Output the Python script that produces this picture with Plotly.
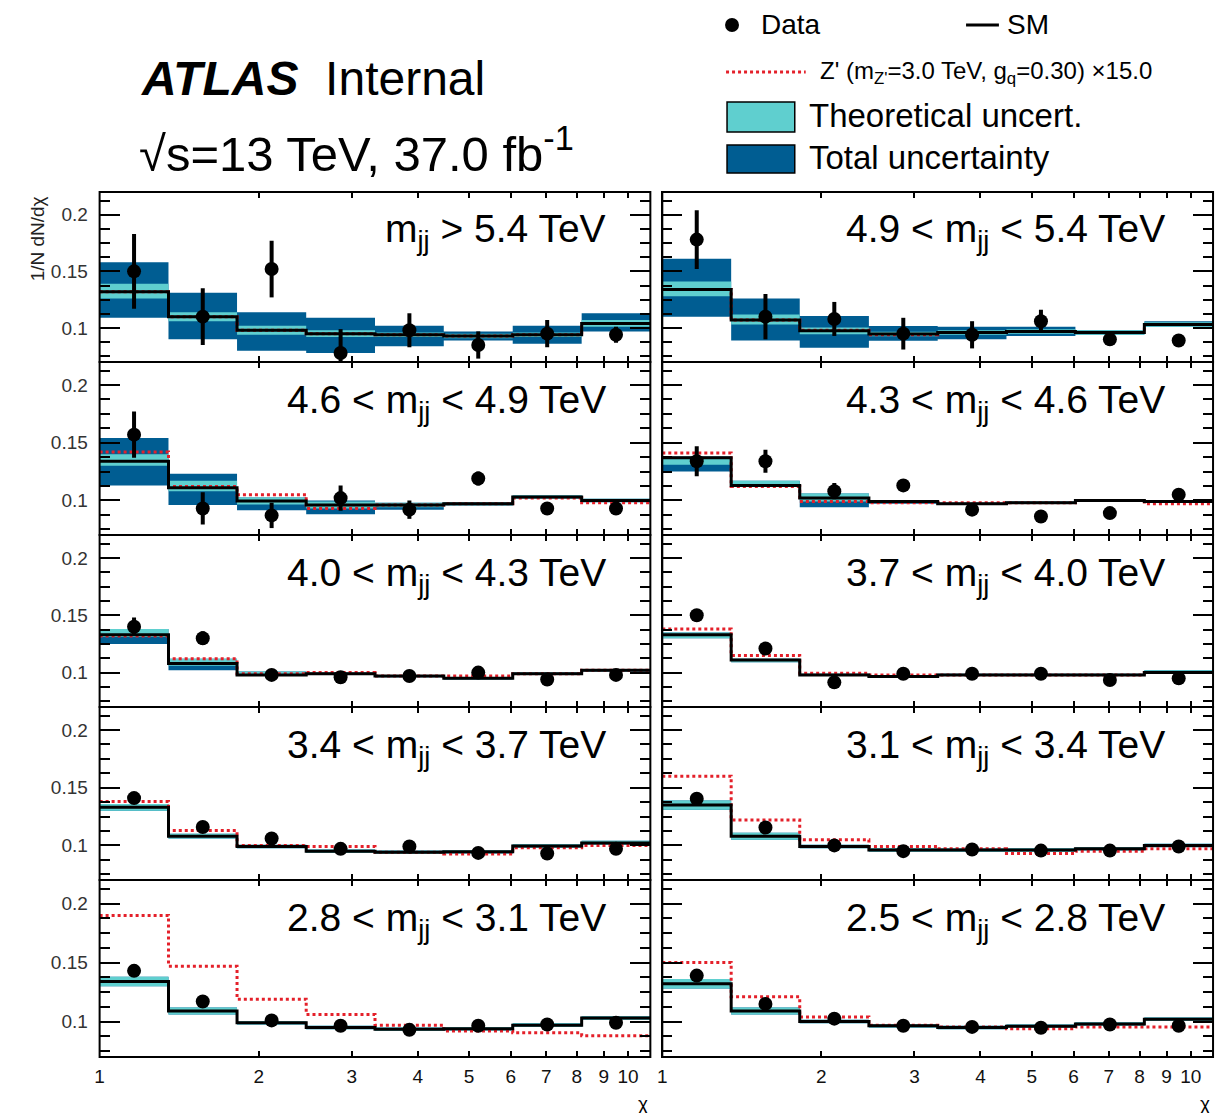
import plotly.graph_objects as go

# ---------------------------------------------------------------- data
CHI_EDGES = [1.0, 1.35, 1.82, 2.46, 3.32, 4.48, 6.05, 8.17, 11.02]
X_TICKS = [1, 2, 3, 4, 5, 6, 7, 8, 9, 10]
Y_TICKS = [0.1, 0.15, 0.2]
Y_TICK_TEXT = ["0.1", "0.15", "0.2"]

MASS_LABELS = [
    "m<sub>jj</sub> &gt; 5.4 TeV",
    "4.9 &lt; m<sub>jj</sub> &lt; 5.4 TeV",
    "4.6 &lt; m<sub>jj</sub> &lt; 4.9 TeV",
    "4.3 &lt; m<sub>jj</sub> &lt; 4.6 TeV",
    "4.0 &lt; m<sub>jj</sub> &lt; 4.3 TeV",
    "3.7 &lt; m<sub>jj</sub> &lt; 4.0 TeV",
    "3.4 &lt; m<sub>jj</sub> &lt; 3.7 TeV",
    "3.1 &lt; m<sub>jj</sub> &lt; 3.4 TeV",
    "2.8 &lt; m<sub>jj</sub> &lt; 3.1 TeV",
    "2.5 &lt; m<sub>jj</sub> &lt; 2.8 TeV",
]

# measured 1/N dN/dchi per mass bin
DATA = [
    [0.150, 0.110, 0.152, 0.078, 0.098, 0.085, 0.095, 0.094],
    [0.178, 0.110, 0.108, 0.095, 0.094, 0.106, 0.090, 0.089],
    [0.157, 0.093, 0.087, 0.102, 0.092, 0.119, 0.093, 0.093],
    [0.134, 0.134, 0.108, 0.113, 0.092, 0.086, 0.089, 0.105],
    [0.140, 0.130, 0.098, 0.096, 0.097, 0.100, 0.094, 0.098],
    [0.150, 0.121, 0.0915, 0.099, 0.099, 0.099, 0.0935, 0.095],
    [0.141, 0.116, 0.106, 0.097, 0.099, 0.0935, 0.093, 0.097],
    [0.1405, 0.1155, 0.100, 0.095, 0.0965, 0.0955, 0.0955, 0.099],
    [0.143, 0.117, 0.101, 0.0965, 0.093, 0.0965, 0.0975, 0.099],
    [0.139, 0.115, 0.1025, 0.0965, 0.0955, 0.0948, 0.0975, 0.0965],
]
DATA_ERR = [
    [0.033, 0.025, 0.025, 0.021, 0.015, 0.012, 0.012, 0.007],
    [0.026, 0.020, 0.015, 0.014, 0.012, 0.010, 0.005, 0.004],
    [0.020, 0.014, 0.011, 0.011, 0.008, 0.006, 0.005, 0.005],
    [0.013, 0.010, 0.007, 0.005, 0.004, 0.003, 0.003, 0.004],
    [0.008, 0.006, 0.004, 0.004, 0.004, 0.004, 0.004, 0.004],
    [0.005, 0.004, 0.004, 0.004, 0.004, 0.004, 0.004, 0.004],
    [0.004, 0.004, 0.004, 0.004, 0.004, 0.004, 0.004, 0.004],
    [0.004, 0.004, 0.003, 0.003, 0.003, 0.003, 0.003, 0.003],
    [0.004, 0.004, 0.003, 0.003, 0.003, 0.003, 0.003, 0.003],
    [0.004, 0.004, 0.003, 0.003, 0.003, 0.003, 0.003, 0.003],
]

# Standard Model prediction
SM = [
    [0.132, 0.110, 0.098, 0.095, 0.094, 0.093, 0.094, 0.104],
    [0.134, 0.107, 0.0975, 0.0947, 0.096, 0.097, 0.096, 0.103],
    [0.134, 0.111, 0.0995, 0.096, 0.096, 0.097, 0.103, 0.100],
    [0.137, 0.113, 0.102, 0.099, 0.097, 0.098, 0.100, 0.099],
    [0.133, 0.108, 0.098, 0.099, 0.097, 0.095, 0.099, 0.102],
    [0.133, 0.111, 0.098, 0.0965, 0.098, 0.098, 0.098, 0.100],
    [0.133, 0.108, 0.099, 0.095, 0.094, 0.0945, 0.0995, 0.102],
    [0.135, 0.108, 0.099, 0.096, 0.096, 0.096, 0.097, 0.100],
    [0.134, 0.109, 0.099, 0.095, 0.0935, 0.094, 0.097, 0.103],
    [0.132, 0.109, 0.100, 0.0965, 0.095, 0.096, 0.098, 0.102],
]

# Z' signal (m_Z' = 3.0 TeV, g_q = 0.30, x15)
ZPRIME = [
    [0.132, 0.110, 0.098, 0.095, 0.094, 0.093, 0.094, 0.104],
    [0.134, 0.107, 0.098, 0.094, 0.096, 0.097, 0.096, 0.103],
    [0.142, 0.112, 0.105, 0.093, 0.096, 0.097, 0.102, 0.098],
    [0.141, 0.112, 0.099, 0.098, 0.098, 0.098, 0.100, 0.097],
    [0.132, 0.112, 0.099, 0.100, 0.097, 0.097, 0.099, 0.102],
    [0.138, 0.115, 0.0995, 0.098, 0.098, 0.098, 0.098, 0.100],
    [0.138, 0.113, 0.100, 0.099, 0.094, 0.0925, 0.098, 0.100],
    [0.160, 0.122, 0.105, 0.099, 0.097, 0.093, 0.095, 0.097],
    [0.190, 0.147, 0.119, 0.106, 0.097, 0.092, 0.0905, 0.088],
    [0.150, 0.121, 0.104, 0.097, 0.0955, 0.094, 0.0955, 0.0955],
]

# theoretical uncertainty (up / down, absolute)
THEO_UP = [
    [0.007, 0.004, 0.004, 0.003, 0.002, 0.002, 0.002, 0.003],
    [0.007, 0.005, 0.003, 0.002, 0.002, 0.002, 0.002, 0.002],
    [0.006, 0.006, 0.003, 0.003, 0.002, 0.0015, 0.0015, 0.0015],
    [0.001, 0.004, 0.004, 0.001, 0.001, 0.001, 0.001, 0.001],
    [0.005, 0.004, 0.003, 0.001, 0.001, 0.001, 0.001, 0.001],
    [0.002, 0.001, 0.001, 0.001, 0.001, 0.001, 0.001, 0.002],
    [0.003, 0.002, 0.0015, 0.0015, 0.0015, 0.0015, 0.0015, 0.002],
    [0.004, 0.003, 0.0015, 0.0015, 0.0015, 0.0015, 0.0015, 0.0015],
    [0.004, 0.003, 0.0015, 0.0015, 0.0015, 0.0015, 0.0015, 0.0015],
    [0.004, 0.003, 0.0015, 0.0015, 0.0015, 0.0015, 0.0015, 0.0015],
]
THEO_DN = [
    [0.006, 0.004, 0.004, 0.003, 0.002, 0.002, 0.002, 0.003],
    [0.006, 0.004, 0.003, 0.002, 0.002, 0.002, 0.002, 0.002],
    [0.004, 0.003, 0.003, 0.003, 0.002, 0.0015, 0.0015, 0.0015],
    [0.006, 0.001, 0.003, 0.001, 0.001, 0.001, 0.001, 0.001],
    [0.002, 0.002, 0.001, 0.001, 0.001, 0.001, 0.001, 0.001],
    [0.003, 0.002, 0.001, 0.001, 0.001, 0.001, 0.001, 0.001],
    [0.003, 0.002, 0.0015, 0.0015, 0.0015, 0.0015, 0.0015, 0.0015],
    [0.004, 0.003, 0.0015, 0.0015, 0.0015, 0.0015, 0.0015, 0.0015],
    [0.004, 0.003, 0.0015, 0.0015, 0.0015, 0.0015, 0.0015, 0.0015],
    [0.004, 0.003, 0.0015, 0.0015, 0.0015, 0.0015, 0.0015, 0.0015],
]

# total uncertainty (up / down, absolute)
TOT_UP = [
    [0.026, 0.021, 0.016, 0.014, 0.008, 0.004, 0.008, 0.009],
    [0.027, 0.019, 0.013, 0.007, 0.005, 0.004, 0.002, 0.003],
    [0.020, 0.012, 0.003, 0.004, 0.002, 0.0015, 0.0015, 0.0015],
    [0.001, 0.004, 0.004, 0.001, 0.001, 0.001, 0.001, 0.001],
    [0.005, 0.004, 0.003, 0.001, 0.001, 0.001, 0.001, 0.001],
    [0.002, 0.001, 0.001, 0.001, 0.001, 0.001, 0.001, 0.002],
    [0.003, 0.002, 0.0015, 0.0015, 0.0015, 0.0015, 0.0015, 0.002],
    [0.004, 0.003, 0.0015, 0.0015, 0.0015, 0.0015, 0.0015, 0.0015],
    [0.004, 0.003, 0.0015, 0.0015, 0.0015, 0.0015, 0.0015, 0.0015],
    [0.004, 0.003, 0.0015, 0.0015, 0.0015, 0.0015, 0.0015, 0.0015],
]
TOT_DN = [
    [0.023, 0.020, 0.018, 0.017, 0.010, 0.004, 0.008, 0.007],
    [0.024, 0.018, 0.015, 0.006, 0.006, 0.004, 0.002, 0.002],
    [0.021, 0.015, 0.008, 0.008, 0.004, 0.0015, 0.0015, 0.0015],
    [0.012, 0.001, 0.008, 0.002, 0.001, 0.001, 0.001, 0.001],
    [0.008, 0.006, 0.001, 0.001, 0.001, 0.001, 0.001, 0.001],
    [0.003, 0.002, 0.001, 0.001, 0.001, 0.001, 0.001, 0.001],
    [0.003, 0.002, 0.0015, 0.0015, 0.0015, 0.0015, 0.0015, 0.0015],
    [0.004, 0.003, 0.0015, 0.0015, 0.0015, 0.0015, 0.0015, 0.0015],
    [0.004, 0.003, 0.0015, 0.0015, 0.0015, 0.0015, 0.0015, 0.0015],
    [0.004, 0.003, 0.0015, 0.0015, 0.0015, 0.0015, 0.0015, 0.0015],
]

# ---------------------------------------------------------------- style
W, H = 1223, 1113
FONT = "Liberation Sans, Arial, Helvetica, sans-serif"
C_THEO = "#5fcfcf"
C_TOT = "#005d92"
C_ZP = "#e4202a"

COL_X = [(95, 648), (660, 1213)]          # pixel extents of the two columns
ROW_Y = [(192, 362), (362, 535), (535, 707), (707, 880), (880, 1057)]
Y_RANGE = [0.07, 0.22]


def px(x):
    return x / W


def py(y):
    return 1 - y / H


def boxes(lo, hi):
    """Closed rectangles for every chi bin between lo and hi."""
    xs, ys = [], []
    for i in range(len(lo)):
        x0, x1 = CHI_EDGES[i], CHI_EDGES[i + 1]
        xs += [x0, x1, x1, x0, x0, None]
        ys += [lo[i], lo[i], hi[i], hi[i], lo[i], None]
    return xs, ys


fig = go.Figure()
layout = {}
shapes = []

for k in range(10):
    row, col = divmod(k, 2)
    n = k + 1
    xa = "x" if n == 1 else f"x{n}"
    ya = "y" if n == 1 else f"y{n}"
    centers = [(CHI_EDGES[i] * CHI_EDGES[i + 1]) ** 0.5 for i in range(len(SM[k]))]

    tot_lo = [s - d for s, d in zip(SM[k], TOT_DN[k])]
    tot_hi = [s + u for s, u in zip(SM[k], TOT_UP[k])]
    th_lo = [s - d for s, d in zip(SM[k], THEO_DN[k])]
    th_hi = [s + u for s, u in zip(SM[k], THEO_UP[k])]

    bx, by = boxes(tot_lo, tot_hi)
    fig.add_trace(go.Scatter(x=bx, y=by, fill="toself", fillcolor=C_TOT,
                             line=dict(width=0), mode="lines",
                             xaxis=xa, yaxis=ya, showlegend=False, hoverinfo="skip"))
    bx, by = boxes(th_lo, th_hi)
    fig.add_trace(go.Scatter(x=bx, y=by, fill="toself", fillcolor=C_THEO,
                             line=dict(width=0), mode="lines",
                             xaxis=xa, yaxis=ya, showlegend=False, hoverinfo="skip"))
    # Z' step histogram
    fig.add_trace(go.Scatter(x=CHI_EDGES, y=ZPRIME[k] + [ZPRIME[k][-1]], mode="lines",
                             line=dict(color=C_ZP, width=3, shape="hv", dash="dot"),
                             xaxis=xa, yaxis=ya, showlegend=False))
    # SM step histogram
    fig.add_trace(go.Scatter(x=CHI_EDGES, y=SM[k] + [SM[k][-1]], mode="lines",
                             line=dict(color="black", width=3, shape="hv"),
                             xaxis=xa, yaxis=ya, showlegend=False))
    # data points
    fig.add_trace(go.Scatter(x=centers, y=DATA[k], mode="markers",
                             marker=dict(color="black", size=14),
                             error_y=dict(type="data", array=DATA_ERR[k], color="black",
                                          thickness=4, width=0),
                             xaxis=xa, yaxis=ya, showlegend=False))

    x0, x1 = COL_X[col]
    y0, y1 = ROW_Y[row]
    bottom = row == 4
    xkey = "xaxis" if n == 1 else f"xaxis{n}"
    ykey = "yaxis" if n == 1 else f"yaxis{n}"
    layout[xkey] = dict(
        type="log", range=[0, 1.0422], domain=[px(x0), px(x1)], anchor=ya,
        tickvals=X_TICKS, ticktext=[str(v) for v in X_TICKS],
        showticklabels=bottom, ticks="inside", ticklen=6, tickwidth=1.5,
        tickcolor="black", showline=True, linecolor="black", linewidth=1,
        mirror="ticks", showgrid=False, zeroline=False, ticklabelstandoff=2,
        tickfont=dict(family=FONT, size=19, color="#111111"),
    )
    layout[ykey] = dict(
        range=Y_RANGE, domain=[py(y1), py(y0)], anchor=xa,
        tickvals=Y_TICKS, ticktext=Y_TICK_TEXT, showticklabels=(col == 0),
        ticks="inside", ticklen=20, tickwidth=1.5, tickcolor="black",
        minor=dict(dtick=0.0125, tick0=0.1, ticks="inside", ticklen=10,
                   tickwidth=1.5, tickcolor="black", showgrid=False),
        showline=True, linecolor="black", linewidth=1, mirror="ticks",
        showgrid=False, zeroline=False, ticklabelstandoff=7,
        tickfont=dict(family=FONT, size=19, color="#333333"),
    )
    # panel frame
    shapes.append(dict(type="rect", xref="paper", yref="paper",
                       x0=px(x0), x1=px(x1), y0=py(y1), y1=py(y0),
                       line=dict(color="black", width=2), layer="above"))

annotations = []
for k in range(10):
    row, col = divmod(k, 2)
    annotations.append(dict(
        x=px(605 if col == 0 else 1167), y=py(ROW_Y[row][0] + 40),
        xref="paper", yref="paper", xanchor="right", yanchor="middle",
        text=MASS_LABELS[k], showarrow=False,
        font=dict(family=FONT, size=39, color="black"),
    ))

# axis titles
annotations.append(dict(x=px(33), y=py(194), xref="paper", yref="paper",
                        xanchor="center", yanchor="top", textangle=-90,
                        text="1/N dN/dχ", showarrow=False,
                        font=dict(family=FONT, size=19, color="#222222")))
for xpos in (641, 1205):
    annotations.append(dict(x=px(xpos), y=py(1103), xref="paper", yref="paper",
                            xanchor="center", yanchor="middle", text="χ",
                            showarrow=False,
                            font=dict(family=FONT, size=19, color="black")))

# experiment labels
annotations.append(dict(x=px(135), y=py(78), xref="paper", yref="paper",
                        xanchor="left", yanchor="middle",
                        text="<b><i>ATLAS</i></b>  Internal", showarrow=False,
                        font=dict(family=FONT, size=48, color="black")))
annotations.append(dict(x=px(133), y=py(150), xref="paper", yref="paper",
                        xanchor="left", yanchor="middle",
                        text="√s=13 TeV, 37.0 fb<sup>-1</sup>", showarrow=False,
                        font=dict(family=FONT, size=49, color="black")))

# legend
annotations.append(dict(x=px(757), y=py(25), xref="paper", yref="paper",
                        xanchor="left", yanchor="middle", text="Data",
                        showarrow=False, font=dict(family=FONT, size=28, color="black")))
annotations.append(dict(x=px(1004), y=py(25), xref="paper", yref="paper",
                        xanchor="left", yanchor="middle", text="SM",
                        showarrow=False, font=dict(family=FONT, size=28, color="black")))
annotations.append(dict(x=px(816), y=py(72), xref="paper", yref="paper",
                        xanchor="left", yanchor="middle",
                        text="Z' (m<sub>Z'</sub>=3.0 TeV, g<sub>q</sub>=0.30) ×15.0",
                        showarrow=False, font=dict(family=FONT, size=24, color="black")))
annotations.append(dict(x=px(805), y=py(115), xref="paper", yref="paper",
                        xanchor="left", yanchor="middle", text="Theoretical uncert.",
                        showarrow=False, font=dict(family=FONT, size=33, color="black")))
annotations.append(dict(x=px(805), y=py(157), xref="paper", yref="paper",
                        xanchor="left", yanchor="middle", text="Total uncertainty",
                        showarrow=False, font=dict(family=FONT, size=33, color="black")))

shapes += [
    dict(type="circle", xref="paper", yref="paper",
         x0=px(723), x1=px(737), y0=py(32), y1=py(18),
         fillcolor="black", line=dict(color="black", width=0)),
    dict(type="line", xref="paper", yref="paper",
         x0=px(965), x1=px(998), y0=py(25), y1=py(25),
         line=dict(color="black", width=3)),
    dict(type="line", xref="paper", yref="paper",
         x0=px(724), x1=px(804), y0=py(72), y1=py(72),
         line=dict(color=C_ZP, width=3, dash="dot")),
    dict(type="rect", xref="paper", yref="paper",
         x0=px(725), x1=px(793), y0=py(132), y1=py(102),
         fillcolor=C_THEO, line=dict(color="black", width=1.5)),
    dict(type="rect", xref="paper", yref="paper",
         x0=px(725), x1=px(793), y0=py(173), y1=py(145),
         fillcolor=C_TOT, line=dict(color="black", width=1.5)),
]

fig.update_layout(
    width=W, height=H, autosize=False,
    margin=dict(l=0, r=0, t=0, b=0),
    paper_bgcolor="white", plot_bgcolor="white",
    showlegend=False, annotations=annotations, shapes=shapes,
    **layout,
)

fig.write_html("out.html")
